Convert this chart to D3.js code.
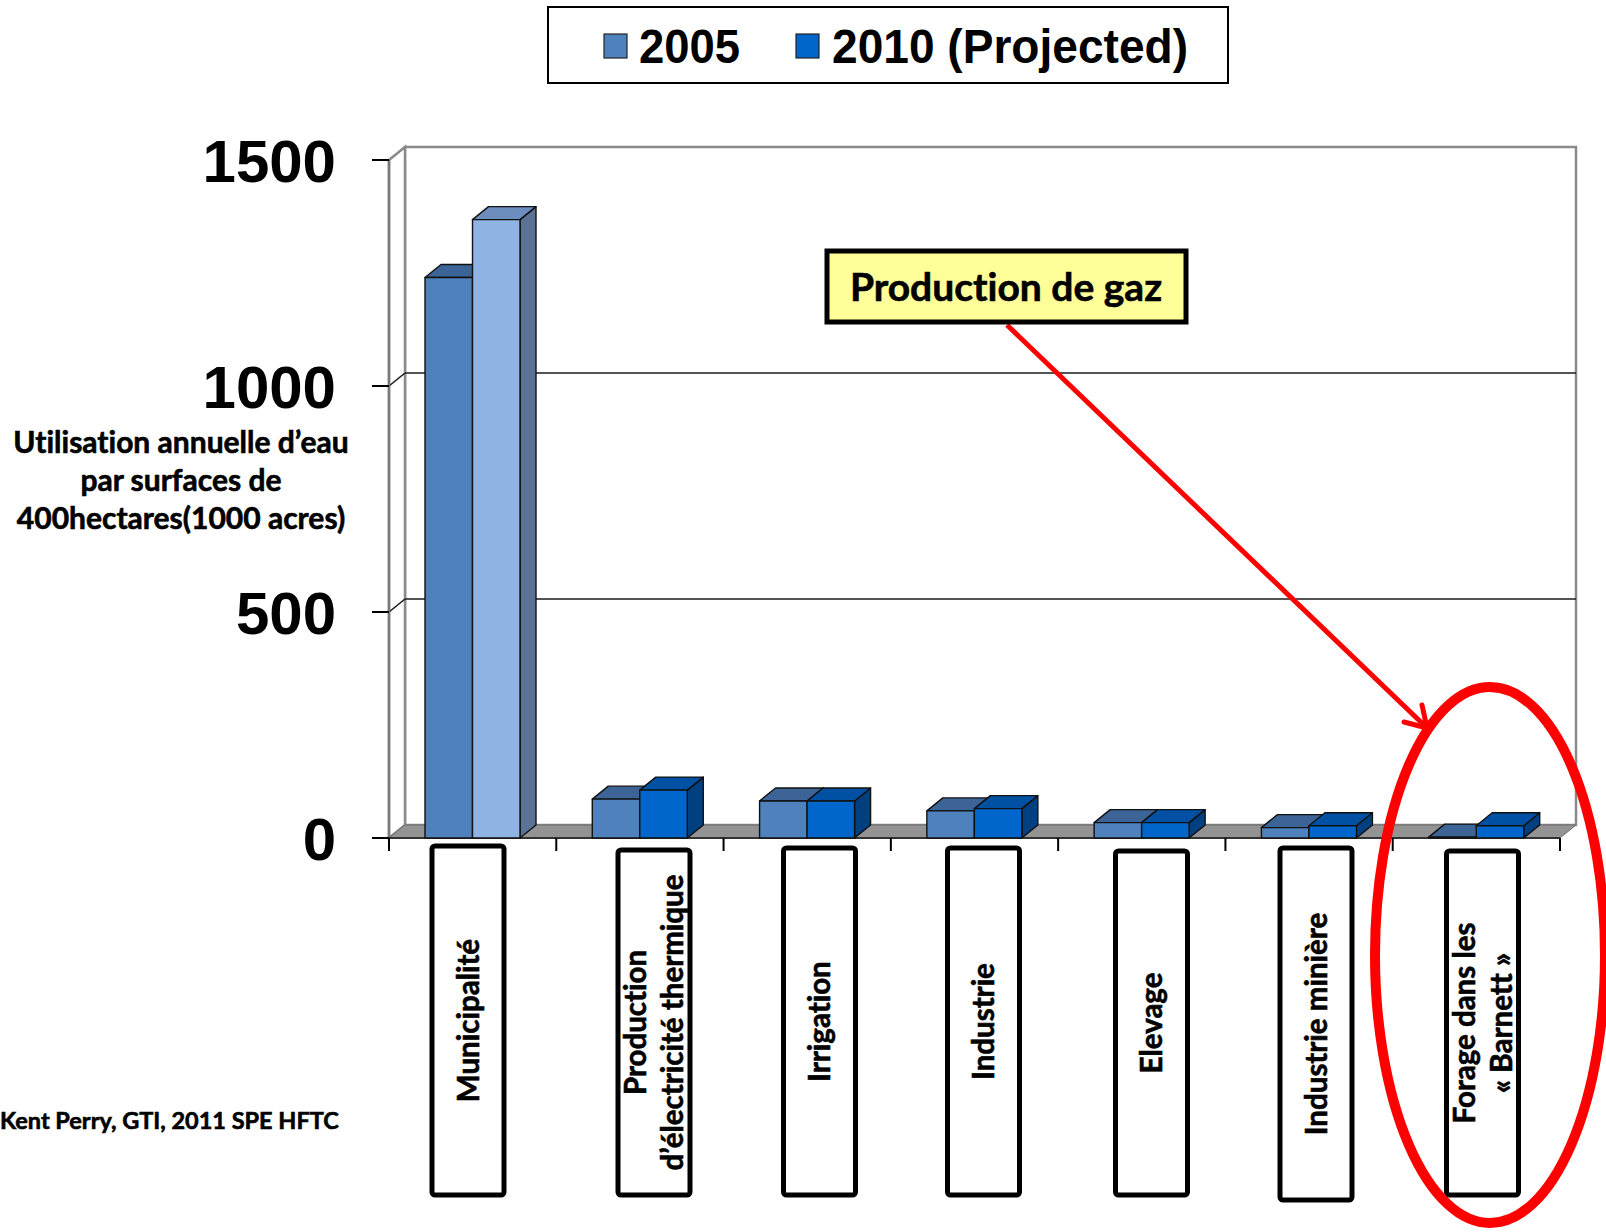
<!DOCTYPE html>
<html>
<head>
<meta charset="utf-8">
<script src="https://cdn.jsdelivr.net/npm/d3@7"></script>
<style>
  html, body { margin: 0; padding: 0; background: #ffffff; }
  svg { display: block; }
  text { font-variant-ligatures: none; font-feature-settings: "liga" 0, "clig" 0; }
  .lbl { stroke: #000; stroke-width: 0.6px; paint-order: stroke fill; }
</style>
</head>
<body>
<script>
// Annual water use per 1000-acre area, by sector (2005 vs 2010 projected)
const categories = [
  "Municipalité",
  "Production d’électricité thermique",
  "Irrigation",
  "Industrie",
  "Elevage",
  "Industrie minière",
  "Forage dans les « Barnett »"
];
const categoryLines = [
  ["Municipalité"],
  ["Production", "d’électricité thermique"],
  ["Irrigation"],
  ["Industrie"],
  ["Elevage"],
  ["Industrie minière"],
  ["Forage dans les", "« Barnett »"]
];
const seriesNames = ["2005", "2010 (Projected)"];
const values2005 = [1240, 86, 82, 60, 34, 23, 2];
const values2010 = [1368, 106, 82, 65, 34, 27, 27];
const yTicks = [0, 500, 1000, 1500];
const yTitleLines = ["Utilisation annuelle d’eau", "par surfaces de", "400hectares(1000 acres)"];
const sourceText = "Kent Perry, GTI, 2011 SPE HFTC";
const calloutText = "Production de gaz";

// ---- styling ----
const W = 1606, H = 1232;
const LABEL_FONT = "Lato, 'Open Sans', sans-serif";
const LABEL_WEIGHT = "bold";
const NUM_FONT = "'Liberation Sans', Arial, sans-serif";
const faces = {
  "2005": { front: "#4f81bd", top: "#3c6496", side: "#385d8a" },
  "2010 (Projected)": { front: "#0066cc", top: "#0051a3", side: "#003f80" }
};
// Municipal 2010 bar is shown in a lighter shade
const highlight = { front: "#8fb4e3", top: "#6c8dbd", side: "#5a7396" };

// 3D box geometry
const box = { x0: 389, x1: 1560, y0: 838, y1: 160, dx: 16, dy: 13 };

const svg = d3.select("body").append("svg")
  .attr("width", W).attr("height", H)
  .attr("viewBox", `0 0 ${W} ${H}`);

svg.append("rect").attr("width", W).attr("height", H).attr("fill", "#fff");

const x = d3.scaleBand().domain(categories).range([box.x0, box.x1]);
const xs = d3.scaleBand().domain(seriesNames).range([36, 36 + 95]);
const y = d3.scaleLinear().domain([0, 1500]).range([box.y0, box.y1]);

const rows = categories.map((c, i) => ({
  cat: c, i,
  vals: [
    { s: seriesNames[0], v: values2005[i] },
    { s: seriesNames[1], v: values2010[i] }
  ]
}));

// ---- walls & floor ----
const walls = svg.append("g");
const { x0, x1, y0, y1, dx, dy } = box;
walls.append("polygon")
  .attr("points", [[x0 + dx, y1 - dy], [x1 + dx, y1 - dy], [x1 + dx, y0 - dy], [x0 + dx, y0 - dy]].join(" "))
  .attr("fill", "#fff").attr("stroke", "#8a8a8a").attr("stroke-width", 2.5);
walls.append("polygon")
  .attr("points", [[x0, y1], [x0 + dx, y1 - dy], [x0 + dx, y0 - dy], [x0, y0]].join(" "))
  .attr("fill", "#fff").attr("stroke", "#8a8a8a").attr("stroke-width", 2.5);

// gridlines on back and side walls
const grid = yTicks.filter(t => t > 0 && t < 1500);
walls.selectAll(".gback").data(grid).join("line")
  .attr("x1", x0 + dx).attr("x2", x1 + dx)
  .attr("y1", d => y(d) - dy).attr("y2", d => y(d) - dy)
  .attr("stroke", "#1a1a1a").attr("stroke-width", 1.6);
walls.selectAll(".gside").data(grid).join("line")
  .attr("x1", x0).attr("x2", x0 + dx)
  .attr("y1", d => y(d)).attr("y2", d => y(d) - dy)
  .attr("stroke", "#1a1a1a").attr("stroke-width", 1.6);

walls.append("polygon")
  .attr("points", [[x0, y0], [x1, y0], [x1 + dx, y0 - dy], [x0 + dx, y0 - dy]].join(" "))
  .attr("fill", "#939393").attr("stroke", "#6f6f6f").attr("stroke-width", 1);

// ---- axes ----
const axisG = svg.append("g");
axisG.append("line").attr("x1", x0).attr("x2", x0).attr("y1", y1).attr("y2", y0)
  .attr("stroke", "#7a7a7a").attr("stroke-width", 2.5);
axisG.append("line").attr("x1", x0).attr("x2", x1).attr("y1", y0).attr("y2", y0)
  .attr("stroke", "#333").attr("stroke-width", 2);
axisG.selectAll(".yt").data(yTicks).join("line")
  .attr("x1", x0 - 17).attr("x2", x0)
  .attr("y1", d => y(d)).attr("y2", d => y(d))
  .attr("stroke", "#000").attr("stroke-width", 2);
const bounds = categories.map(c => x(c)).concat([x1]);
axisG.selectAll(".xt").data(bounds).join("line")
  .attr("x1", d => d).attr("x2", d => d)
  .attr("y1", y0).attr("y2", y0 + 13)
  .attr("stroke", "#000").attr("stroke-width", 2);

axisG.selectAll(".yl").data(yTicks).join("text")
  .attr("x", 336).attr("y", d => y(d))
  .attr("dy", "0.36em")
  .attr("text-anchor", "end")
  .attr("font-family", NUM_FONT).attr("font-weight", "bold")
  .attr("font-size", 60).attr("fill", "#000")
  .text(d => d);

// ---- 3D bars ----
const barW = xs.bandwidth();
const barsG = svg.append("g");
rows.forEach(r => {
  r.vals.forEach(p => {
    const st = (r.i === 0 && p.s === seriesNames[1]) ? highlight : faces[p.s];
    const bx = x(r.cat) + xs(p.s);
    const top = y(p.v);
    const g = barsG.append("g").attr("stroke", "#111").attr("stroke-width", 1.4).attr("stroke-linejoin", "round");
    // right side face
    g.append("polygon")
      .attr("points", [[bx + barW, top], [bx + barW + dx, top - dy], [bx + barW + dx, y0 - dy], [bx + barW, y0]].join(" "))
      .attr("fill", st.side);
    // top face
    g.append("polygon")
      .attr("points", [[bx, top], [bx + barW, top], [bx + barW + dx, top - dy], [bx + dx, top - dy]].join(" "))
      .attr("fill", st.top);
    // front face
    g.append("rect")
      .attr("x", bx).attr("y", top)
      .attr("width", barW).attr("height", Math.max(0.5, y0 - top))
      .attr("fill", st.front);
  });
});

// ---- category label boxes ----
const labelBoxes = [
  { cx: 468, top: 846, bottom: 1195 },
  { cx: 654, top: 850, bottom: 1195 },
  { cx: 819.5, top: 848, bottom: 1195 },
  { cx: 983.5, top: 848, bottom: 1195 },
  { cx: 1151.5, top: 851, bottom: 1195 },
  { cx: 1316, top: 848, bottom: 1200 },
  { cx: 1482.5, top: 851, bottom: 1195 }
];
const labG = svg.append("g");
categoryLines.forEach((lines, i) => {
  const b = labelBoxes[i];
  labG.append("rect")
    .attr("x", b.cx - 36).attr("y", b.top)
    .attr("width", 72).attr("height", b.bottom - b.top)
    .attr("rx", 3)
    .attr("fill", "#fff").attr("stroke", "#000").attr("stroke-width", 5);
  const cy = (b.top + b.bottom) / 2;
  const t = labG.append("text")
    .attr("class", "lbl")
    .attr("transform", `translate(${b.cx},${cy}) rotate(-90)`)
    .attr("text-anchor", "middle")
    .attr("font-family", LABEL_FONT).attr("font-weight", LABEL_WEIGHT)
    .attr("font-size", 29.5).attr("fill", "#000");
  const n = lines.length;
  lines.forEach((ln, k) => {
    t.append("tspan")
      .attr("x", 0)
      .attr("y", (k - (n - 1) / 2) * 37)
      .attr("dy", "0.36em")
      .text(ln);
  });
});

// ---- y-axis title ----
svg.append("text")
  .attr("class", "lbl")
  .attr("text-anchor", "middle")
  .attr("font-family", LABEL_FONT).attr("font-weight", LABEL_WEIGHT)
  .attr("font-size", 30).attr("fill", "#000")
  .selectAll("tspan").data(yTitleLines).join("tspan")
  .attr("x", 181).attr("y", (d, i) => 453 + i * 38)
  .text(d => d);

// ---- source ----
svg.append("text")
  .attr("class", "lbl")
  .attr("x", 0).attr("y", 1129)
  .attr("font-family", LABEL_FONT).attr("font-weight", LABEL_WEIGHT)
  .attr("font-size", 23.5).attr("fill", "#000")
  .text(sourceText);

// ---- legend ----
const leg = svg.append("g");
leg.append("rect").attr("x", 548).attr("y", 7).attr("width", 680).attr("height", 76)
  .attr("fill", "#fff").attr("stroke", "#000").attr("stroke-width", 2);
const legItems = [
  { s: seriesNames[0], sx: 604, tx: 639, tw: 101 },
  { s: seriesNames[1], sx: 796, tx: 832, tw: 356 }
];
legItems.forEach(it => {
  leg.append("rect").attr("x", it.sx).attr("y", 34).attr("width", 23).attr("height", 24)
    .attr("fill", faces[it.s].front).attr("stroke", "#222").attr("stroke-width", 1.2);
  leg.append("text").attr("x", it.tx).attr("y", 63)
    .attr("font-family", NUM_FONT).attr("font-weight", "bold")
    .attr("font-size", 48).attr("fill", "#000")
    .attr("textLength", it.tw).attr("lengthAdjust", "spacingAndGlyphs")
    .text(it.s);
});

// ---- callout: gas production ----
const call = svg.append("g");
call.append("line")
  .attr("x1", 1007).attr("y1", 325).attr("x2", 1426).attr("y2", 727)
  .attr("stroke", "#ff0000").attr("stroke-width", 5);
call.append("polyline")
  .attr("points", [[1404, 722], [1427, 728], [1422, 705]].join(" "))
  .attr("fill", "none").attr("stroke", "#ff0000").attr("stroke-width", 5)
  .attr("stroke-linecap", "round").attr("stroke-linejoin", "round");
call.append("rect").attr("x", 827).attr("y", 251).attr("width", 359).attr("height", 71)
  .attr("fill", "#ffff99").attr("stroke", "#000").attr("stroke-width", 5);
call.append("text").attr("x", 1006).attr("y", 301)
  .attr("class", "lbl")
  .attr("text-anchor", "middle")
  .attr("font-family", LABEL_FONT).attr("font-weight", LABEL_WEIGHT)
  .attr("font-size", 39).attr("fill", "#000")
  .text(calloutText);

// red ellipse around the drilling category
svg.append("ellipse")
  .attr("cx", 1490).attr("cy", 955).attr("rx", 115).attr("ry", 268)
  .attr("fill", "none").attr("stroke", "#ff0000").attr("stroke-width", 10);
</script>
</body>
</html>
